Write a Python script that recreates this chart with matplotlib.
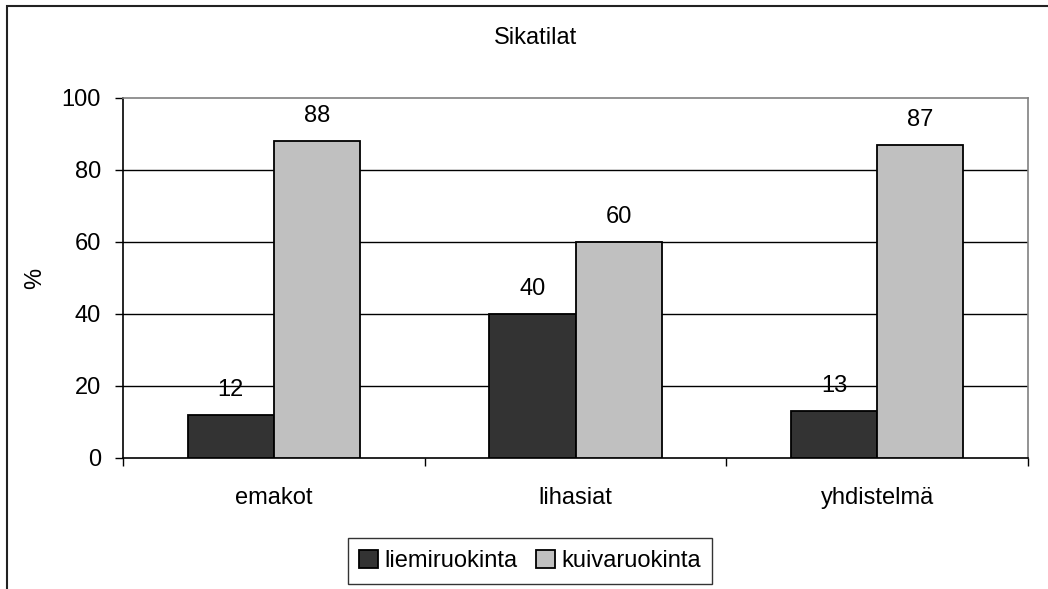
import matplotlib
matplotlib.use('Agg')
import matplotlib.pyplot as plt
import numpy as np
from matplotlib.patches import Rectangle

plt.rcParams['font.family'] = ['Liberation Sans', 'DejaVu Sans']

categories = ['emakot', 'lihasiat', 'yhdistelmä']
liemi = [12, 40, 13]
kuiva = [88, 60, 87]
series_names = ['liemiruokinta', 'kuivaruokinta']
yticks = [0, 20, 40, 60, 80, 100]

fig = plt.figure(figsize=(10.48, 5.89), dpi=100)
ax = fig.add_axes([123/1048, 1 - 458/589, 905/1048, 360/589])

x = np.arange(len(categories))
w = 1 / 3.5
b1 = ax.bar(x - w/2, liemi, w, color='#333333', edgecolor='black', linewidth=1.3, label=series_names[0], zorder=3)
b2 = ax.bar(x + w/2, kuiva, w, color='#c0c0c0', edgecolor='black', linewidth=1.3, label=series_names[1], zorder=3)
ax.bar_label(b1, padding=10, fontsize=17)
ax.bar_label(b2, padding=10, fontsize=17)

ax.set_xlim(-0.5, 2.5)
ax.set_ylim(0, 100)
ax.set_yticks(yticks)
ax.tick_params(axis='y', length=6, width=1, pad=10, labelsize=17)
for v in yticks[1:-1]:
    ax.axhline(v, color='black', linewidth=1, zorder=1)

ax.set_xticks(x)
ax.set_xticklabels(categories, fontsize=17)
ax.tick_params(axis='x', which='major', length=0, pad=21)
ax.set_xticks(np.arange(-0.5, 3, 1), minor=True)
ax.tick_params(axis='x', which='minor', length=6, width=1, color='black')

ax.spines['top'].set_color('#808080')
ax.spines['right'].set_color('#808080')
ax.spines['left'].set_color('black')
ax.spines['bottom'].set_color('black')
for s in ax.spines.values():
    s.set_linewidth(1.2)

fig.text(536/1048, 1 - 38/589, 'Sikatilat', ha='center', va='center', fontsize=17)
fig.text(35/1048, 1 - 278/589, '%', ha='center', va='center', rotation=90, fontsize=17)

leg = fig.legend(loc='center', bbox_to_anchor=(530/1048, 1 - 561/589), ncol=2,
                 fontsize=17, frameon=True, fancybox=False, edgecolor='black',
                 handlelength=0.8, handleheight=0.8, handletextpad=0.25,
                 columnspacing=0.8, borderpad=0.5, borderaxespad=0)
leg.get_frame().set_linewidth(1)

fig.patches.append(Rectangle((7/1048, -0.1), 1.2, 1.1 - 6/589, transform=fig.transFigure,
                             fill=False, edgecolor='#222222', linewidth=1.5))

fig.savefig('out.png', dpi=100)
